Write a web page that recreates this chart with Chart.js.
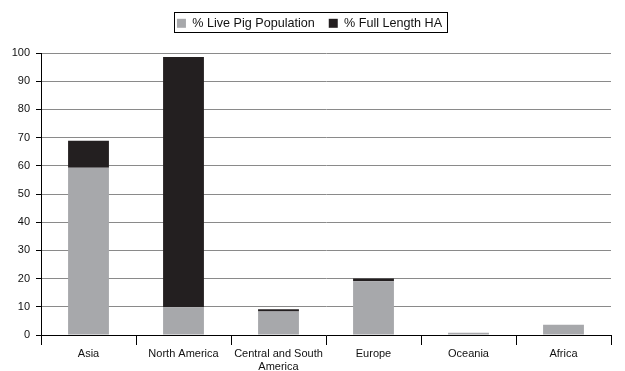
<!DOCTYPE html>
<html>
<head>
<meta charset="utf-8">
<script src="https://cdn.jsdelivr.net/npm/chart.js@4/dist/chart.umd.min.js"></script>
<style>
  html, body { margin: 0; padding: 0; background: #fff; }
  #wrap { width: 625px; height: 371px; }
</style>
</head>
<body>
<div id="wrap"><canvas id="chart" width="625" height="371"></canvas></div>
<script>
// data
const regions = ['Asia', 'North America', ['Central and South', 'America'], 'Europe', 'Oceania', 'Africa'];
const livePig = [59.3, 9.8, 8.3, 19.1, 0.8, 3.6];
const fullHA = [9.6, 88.8, 0.8, 0.9, 0, 0];
const yTicks = [0, 10, 20, 30, 40, 50, 60, 70, 80, 90, 100];

const GRAY = '#a7a8ab';
const DARK = '#231f20';
const FONT = 'Liberation Sans, Arial, sans-serif';

// border round the legend, like the original
const legendBox = {
  id: 'legendBox',
  beforeInit(chart) {
    const orig = chart.legend.fit;
    chart.legend.fit = function () {
      orig.call(this);
      this.height = 50;
    };
  },
  afterDraw(chart) {
    const lg = chart.legend;
    if (!lg || !lg.legendHitBoxes.length) return;
    const boxes = lg.legendHitBoxes;
    const x0 = boxes[0].left - 3;
    const last = boxes[boxes.length - 1];
    const x1 = last.left + last.width + 5;
    const ctx = chart.ctx;
    ctx.save();
    ctx.strokeStyle = '#000';
    ctx.lineWidth = 1;
    ctx.strokeRect(Math.round(x0) + 0.5, 12.5, Math.round(x1 - x0), 20);
    ctx.restore();
  }
};

new Chart(document.getElementById('chart'), {
  type: 'bar',
  data: {
    labels: regions,
    datasets: [
      { label: '% Live Pig Population', data: livePig, backgroundColor: GRAY, categoryPercentage: 1, barPercentage: 0.43 },
      { label: '% Full Length HA', data: fullHA, backgroundColor: DARK, categoryPercentage: 1, barPercentage: 0.43 }
    ]
  },
  options: {
    responsive: false,
    animation: false,
    layout: { padding: { left: 8, right: 14, top: 3, bottom: 0 } },
    plugins: {
      tooltip: { enabled: false },
      legend: {
        position: 'top',
        labels: {
          color: '#111',
          font: { family: FONT, size: 12.6 },
          boxWidth: 9, boxHeight: 9,
          padding: 14
        }
      }
    },
    scales: {
      x: {
        stacked: true,
        border: { display: true, color: '#000', width: 1 },
        grid: { offset: true, drawOnChartArea: false, drawTicks: true, tickLength: 10, color: '#000' },
        ticks: { color: '#111', font: { family: FONT, size: 11 }, padding: 2, maxRotation: 0, autoSkip: false },
        afterFit(scale) { scale.height = 36; }
      },
      y: {
        stacked: true,
        min: 0, max: 100,
        afterBuildTicks(scale) { scale.ticks = yTicks.map(v => ({ value: v })); },
        border: { display: true, color: '#000', width: 1 },
        grid: { color: '#8a8a8a', tickColor: '#000', tickLength: 5, lineWidth: 1 },
        ticks: { color: '#111', font: { family: FONT, size: 11 }, padding: 6 },
        afterFit(scale) { scale.width = 33; }
      }
    }
  },
  plugins: [legendBox]
});
</script>
</body>
</html>
